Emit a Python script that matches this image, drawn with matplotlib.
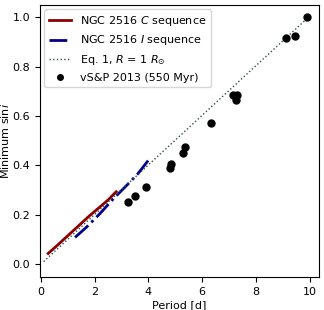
import matplotlib
matplotlib.use("Agg")
import matplotlib.pyplot as plt

# NGC 2516 C sequence
c_period = [0.27, 0.6, 1.0, 1.4, 1.8, 2.2, 2.5, 2.8]
c_sini = [0.043, 0.075, 0.115, 0.155, 0.195, 0.232, 0.26, 0.293]

# NGC 2516 I sequence
i_period = [1.27, 1.7, 2.2, 2.7, 3.2, 3.6, 4.0]
i_sini = [0.108, 0.150, 0.205, 0.265, 0.320, 0.365, 0.421]

# Eq. 1 with R = 1 Rsun
eq_period = [0.1, 10.0]
eq_sini = [0.01, 1.005]

# vS&P 2013 (550 Myr)
vsp_period = [3.23, 3.49, 3.9, 4.8, 4.83, 5.27, 5.35, 6.34, 7.15, 7.31, 7.26, 9.13, 9.44, 9.89]
vsp_sini = [0.25, 0.275, 0.313, 0.39, 0.405, 0.45, 0.475, 0.57, 0.687, 0.687, 0.665, 0.918, 0.925, 1.0]

plt.rcParams["font.size"] = 8
fig = plt.figure(figsize=(3.24, 3.10), dpi=100)
ax = fig.add_axes([0.123, 0.106, 0.862, 0.878])

ax.plot(c_period, c_sini, color="#8b0000", lw=2, label="NGC 2516 $C$ sequence")
ax.plot(i_period, i_sini, color="#00008b", lw=2, ls="-.", label="NGC 2516 $I$ sequence")
ax.plot(eq_period, eq_sini, color="#2f4f4f", lw=1, ls=":", label="Eq. 1, $R$ = 1 $R_{\\odot}$")
ax.plot(vsp_period, vsp_sini, "o", color="black", ms=5, ls="none", label="vS&P 2013 (550 Myr)")

ax.set_xlim(-0.04, 10.35)
ax.set_ylim(-0.053, 1.05)
ax.set_xticks([0, 2, 4, 6, 8, 10])
ax.set_yticks([0.0, 0.2, 0.4, 0.6, 0.8, 1.0])
ax.set_xlabel("Period [d]", labelpad=2)
ax.set_ylabel("Minimum sin$i$", labelpad=1)
ax.legend(loc="upper left", borderaxespad=0.4, markerscale=0.8)

fig.savefig("out.png", dpi=100)
